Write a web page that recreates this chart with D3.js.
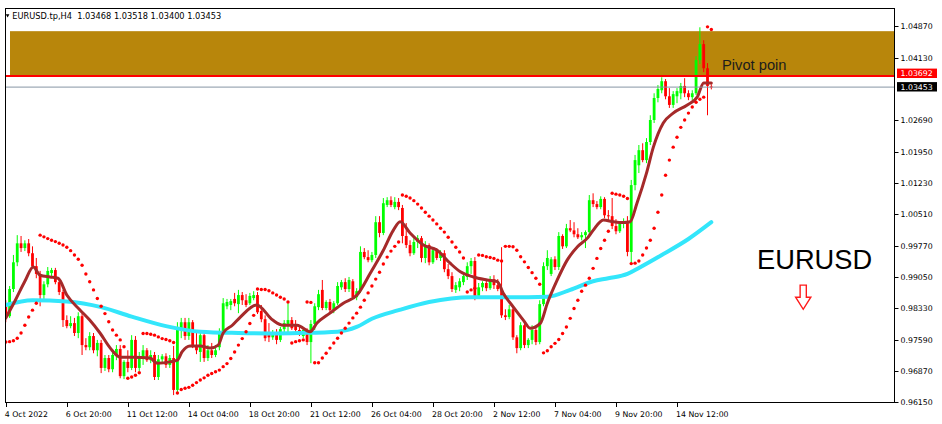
<!DOCTYPE html>
<html><head><meta charset="utf-8">
<script src="https://cdn.jsdelivr.net/npm/d3@7"></script>
<style>html,body{margin:0;padding:0;background:#fff;}svg{display:block;}</style>
</head><body><svg id="c" width="942" height="424"></svg>
<script>
// ---- data (EURUSD.tp, H4) ----
const symbol = "EURUSD.tp,H4";
const lastOHLC = [1.03468, 1.03518, 1.03400, 1.03453];
const open = [0.9840,0.9814,0.9877,0.9939,0.9983,0.9972,0.9983,0.9960,0.9930,0.9912,
0.9863,0.9888,0.9914,0.9921,0.9893,0.9870,0.9805,0.9791,0.9798,0.9775,
0.9814,0.9747,0.9742,0.9768,0.9735,0.9752,0.9694,0.9717,0.9691,0.9724,
0.9738,0.9675,0.9708,0.9694,0.9759,0.9694,0.9719,0.9735,0.9712,0.9724,
0.9673,0.9714,0.9721,0.9701,0.9717,0.9643,0.9786,0.9800,0.9768,0.9800,
0.9747,0.9731,0.9770,0.9717,0.9735,0.9724,0.9742,0.9777,0.9837,0.9840,
0.9854,0.9842,0.9863,0.9851,0.9844,0.9856,0.9863,0.9826,0.9807,0.9775,
0.9765,0.9775,0.9759,0.9784,0.9793,0.9805,0.9791,0.9782,0.9768,0.9779,
0.9754,0.9796,0.9835,0.9875,0.9833,0.9847,0.9828,0.9844,0.9881,0.9893,
0.9877,0.9895,0.9858,0.9872,0.9963,0.9951,0.9944,0.9956,1.0032,1.0007,
1.0072,1.0083,1.0067,1.0079,1.0065,1.0000,0.9979,0.9960,0.9986,0.9995,
0.9949,0.9979,0.9939,0.9967,0.9949,0.9960,0.9923,0.9907,0.9875,0.9881,
0.9893,0.9905,0.9930,0.9942,0.9861,0.9881,0.9891,0.9879,0.9900,0.9886,
0.9877,0.9816,0.9812,0.9830,0.9765,0.9740,0.9793,0.9747,0.9759,0.9782,
0.9754,0.9842,0.9930,0.9912,0.9946,0.9928,1.0000,0.9976,1.0018,1.0013,
1.0004,0.9997,1.0002,1.0009,1.0083,1.0074,1.0067,1.0086,1.0048,1.0046,
1.0023,1.0011,1.0028,1.0034,0.9963,1.0118,1.0164,1.0199,1.0176,1.0218,
1.0269,1.0320,1.0338,1.0359,1.0324,1.0304,1.0324,1.0331,1.0348,1.0331,
1.0322,1.0331,1.0408,1.0445,1.0389,1.03468];
const high = [0.9851,0.9884,0.9956,1.0002,1.0000,0.9990,0.9993,0.9976,0.9949,0.9919,
0.9895,0.9928,0.9926,0.9926,0.9902,0.9875,0.9816,0.9814,0.9810,0.9823,
0.9821,0.9763,0.9777,0.9775,0.9759,0.9759,0.9724,0.9724,0.9731,0.9747,
0.9747,0.9712,0.9735,0.9770,0.9768,0.9731,0.9747,0.9740,0.9735,0.9731,
0.9724,0.9726,0.9728,0.9724,0.9745,0.9800,0.9810,0.9810,0.9810,0.9805,
0.9777,0.9782,0.9777,0.9747,0.9752,0.9747,0.9786,0.9856,0.9854,0.9854,
0.9868,0.9875,0.9870,0.9865,0.9868,0.9872,0.9870,0.9840,0.9816,0.9798,
0.9782,0.9784,0.9789,0.9805,0.9844,0.9812,0.9805,0.9791,0.9789,0.9786,
0.9805,0.9844,0.9875,0.9898,0.9851,0.9854,0.9849,0.9893,0.9898,0.9902,
0.9905,0.9900,0.9879,0.9976,0.9972,0.9967,0.9963,1.0046,1.0046,1.0088,
1.0090,1.0092,1.0090,1.0088,1.0072,1.0030,0.9990,0.9995,1.0002,1.0000,
0.9988,0.9983,0.9974,0.9972,0.9967,0.9967,0.9935,0.9916,0.9893,0.9902,
0.9914,0.9939,0.9949,0.9951,0.9891,0.9895,0.9900,0.9907,0.9909,0.9900,
0.9974,0.9830,0.9840,0.9837,0.9770,0.9800,0.9800,0.9763,0.9793,0.9789,
0.9851,0.9939,0.9967,0.9951,0.9953,1.0009,1.0004,1.0028,1.0037,1.0032,
1.0018,1.0009,1.0013,1.0095,1.0099,1.0081,1.0092,1.0090,1.0060,1.0088,
1.0039,1.0034,1.0041,1.0046,1.0130,1.0188,1.0211,1.0215,1.0227,1.0280,
1.0331,1.0350,1.0368,1.0364,1.0343,1.0336,1.0343,1.0355,1.0366,1.0338,
1.0338,1.0417,1.0484,1.0454,1.0401,1.03518];
const low = [0.9800,0.9810,0.9870,0.9930,0.9963,0.9965,0.9953,0.9926,0.9902,0.9837,
0.9854,0.9881,0.9905,0.9888,0.9863,0.9789,0.9786,0.9786,0.9768,0.9763,
0.9724,0.9735,0.9735,0.9728,0.9721,0.9682,0.9687,0.9684,0.9684,0.9712,
0.9670,0.9668,0.9684,0.9689,0.9684,0.9687,0.9701,0.9708,0.9705,0.9666,
0.9666,0.9705,0.9694,0.9694,0.9631,0.9638,0.9763,0.9759,0.9759,0.9740,
0.9726,0.9708,0.9708,0.9710,0.9717,0.9719,0.9735,0.9772,0.9830,0.9828,
0.9837,0.9821,0.9840,0.9835,0.9840,0.9851,0.9819,0.9800,0.9756,0.9754,
0.9759,0.9749,0.9754,0.9772,0.9772,0.9782,0.9777,0.9768,0.9763,0.9747,
0.9705,0.9782,0.9828,0.9828,0.9828,0.9823,0.9821,0.9840,0.9875,0.9870,
0.9870,0.9854,0.9851,0.9868,0.9946,0.9939,0.9939,0.9949,0.9997,1.0002,
1.0067,1.0067,1.0062,1.0060,0.9983,0.9972,0.9953,0.9956,0.9972,0.9939,
0.9937,0.9932,0.9935,0.9944,0.9942,0.9916,0.9900,0.9870,0.9868,0.9872,
0.9886,0.9898,0.9912,0.9851,0.9854,0.9872,0.9872,0.9875,0.9877,0.9872,
0.9810,0.9805,0.9807,0.9759,0.9728,0.9735,0.9740,0.9740,0.9749,0.9747,
0.9749,0.9837,0.9921,0.9907,0.9921,0.9921,0.9970,0.9972,1.0009,0.9997,
0.9993,0.9990,0.9972,1.0002,1.0067,1.0062,1.0062,1.0041,1.0037,1.0016,
1.0004,1.0007,1.0018,0.9953,0.9937,1.0106,1.0146,1.0171,1.0169,1.0211,
1.0262,1.0310,1.0331,1.0317,1.0297,1.0297,1.0308,1.0317,1.0322,1.0315,
1.0315,1.0327,1.0399,1.0380,1.0280,1.03400];
const close = [0.9814,0.9877,0.9939,0.9983,0.9972,0.9983,0.9960,0.9930,0.9912,0.9863,
0.9888,0.9919,0.9921,0.9893,0.9870,0.9805,0.9791,0.9798,0.9775,0.9814,
0.9747,0.9742,0.9768,0.9735,0.9752,0.9694,0.9717,0.9691,0.9724,0.9738,
0.9675,0.9708,0.9694,0.9759,0.9694,0.9719,0.9735,0.9712,0.9724,0.9673,
0.9714,0.9721,0.9701,0.9717,0.9643,0.9786,0.9800,0.9768,0.9800,0.9747,
0.9735,0.9770,0.9717,0.9735,0.9724,0.9735,0.9777,0.9844,0.9847,0.9849,
0.9844,0.9863,0.9851,0.9840,0.9861,0.9863,0.9823,0.9807,0.9763,0.9765,
0.9775,0.9759,0.9784,0.9798,0.9805,0.9786,0.9782,0.9777,0.9782,0.9754,
0.9796,0.9837,0.9865,0.9833,0.9847,0.9828,0.9844,0.9884,0.9893,0.9877,
0.9898,0.9858,0.9872,0.9963,0.9951,0.9944,0.9956,1.0032,1.0007,1.0076,
1.0083,1.0072,1.0079,1.0067,1.0000,0.9979,0.9960,0.9986,0.9995,0.9949,
0.9979,0.9939,0.9967,0.9949,0.9960,0.9923,0.9907,0.9877,0.9886,0.9895,
0.9907,0.9930,0.9942,0.9861,0.9881,0.9891,0.9879,0.9900,0.9886,0.9877,
0.9816,0.9812,0.9830,0.9765,0.9740,0.9793,0.9747,0.9759,0.9782,0.9754,
0.9842,0.9930,0.9949,0.9946,0.9928,1.0000,0.9976,1.0018,1.0013,1.0004,
0.9997,1.0002,1.0009,1.0083,1.0074,1.0067,1.0086,1.0048,1.0046,1.0023,
1.0011,1.0028,1.0034,0.9963,1.0118,1.0176,1.0199,1.0176,1.0218,1.0269,
1.0320,1.0341,1.0359,1.0324,1.0304,1.0329,1.0336,1.0348,1.0331,1.0322,
1.0331,1.0408,1.0445,1.0389,1.0348,1.03453];
const sar = [0.9754,0.9755,0.9757,0.9763,0.9775,0.9793,0.9812,0.9828,0.9844,1.0002,
0.9998,0.9994,0.9990,0.9987,0.9983,0.9979,0.9974,0.9966,0.9956,0.9946,
0.9932,0.9912,0.9894,0.9875,0.9855,0.9837,0.9820,0.9801,0.9782,0.9770,
0.9759,0.9743,0.9670,0.9673,0.9677,0.9683,0.9774,0.9774,0.9772,0.9770,
0.9766,0.9762,0.9760,0.9757,0.9753,0.9636,0.9644,0.9647,0.9649,0.9654,
0.9660,0.9666,0.9671,0.9677,0.9681,0.9685,0.9689,0.9697,0.9704,0.9716,
0.9731,0.9747,0.9762,0.9778,0.9797,0.9816,0.9877,0.9876,0.9876,0.9873,
0.9868,0.9863,0.9858,0.9854,0.9847,0.9752,0.9755,0.9757,0.9759,0.9847,
0.9846,0.9706,0.9706,0.9717,0.9728,0.9740,0.9752,0.9763,0.9775,0.9786,
0.9798,0.9810,0.9821,0.9835,0.9851,0.9868,0.9884,0.9900,0.9916,0.9935,
0.9951,0.9965,0.9976,0.9986,1.0095,1.0092,1.0088,1.0082,1.0074,1.0065,
1.0055,1.0046,1.0037,1.0028,1.0018,1.0009,0.9997,0.9986,0.9974,0.9963,
0.9949,0.9870,0.9875,0.9879,0.9956,0.9955,0.9952,0.9950,0.9948,0.9944,
0.9942,0.9976,0.9976,0.9975,0.9967,0.9952,0.9940,0.9927,0.9915,0.9902,
0.9888,0.9729,0.9734,0.9743,0.9751,0.9760,0.9774,0.9789,0.9809,0.9832,
0.9851,0.9872,0.9886,0.9902,0.9925,0.9948,0.9971,0.9990,1.0011,1.0099,
1.0097,1.0095,1.0092,1.0087,0.9936,0.9937,0.9942,0.9956,0.9972,0.9990,
1.0018,1.0055,1.0095,1.0141,1.0176,1.0206,1.0229,1.0252,1.0269,1.0285,
1.0299,1.0310,1.0317,1.0322,1.0485,1.0479];
// moving averages: [bar index, price]
const fastMA = [[0,0.9810],[2.5,0.9851],[5,0.9895],[7.2,0.9928],[9,0.9909],[11.6,0.9905],[13.7,0.9902],[16,0.9863],[19.5,0.9828],[22,0.9805],[24.7,0.9775],[27.4,0.9740],[30,0.9719],[33.4,0.9719],[37.8,0.9717],[39.7,0.9705],[43.1,0.9708],[45,0.9712],[46.2,0.9731],[48.3,0.9745],[51,0.9745],[53.6,0.9740],[55.7,0.9747],[57,0.9775],[59.4,0.9793],[61.5,0.9812],[65.8,0.9840],[70,0.9805],[72.7,0.9793],[76.4,0.9793],[79.8,0.9778],[81.6,0.9798],[85,0.9821],[88.5,0.9844],[92.1,0.9863],[95.6,0.9914],[99,0.9967],[101.6,1.0013],[103.4,1.0033],[106,1.0007],[109.5,0.9979],[113.1,0.9967],[116.5,0.9937],[119.2,0.9917],[122.6,0.9905],[126.2,0.9898],[128.9,0.9894],[130.4,0.9868],[133,0.9836],[135.7,0.9805],[137.5,0.9786],[140.2,0.9798],[142,0.9844],[144.6,0.9898],[147.2,0.9944],[149.9,0.9975],[152.5,0.9995],[154,1.0013],[156.7,1.0037],[159.3,1.0033],[161.9,1.0031],[163.7,1.0033],[165.5,1.0076],[168,1.0146],[169.8,1.0206],[172.4,1.0262],[175,1.0285],[178.7,1.0304],[181.3,1.0322],[183,1.0355],[185,1.0355]];
const slowMA = [[0,0.9840],[7,0.9851],[16,0.9848],[25,0.9835],[33,0.9813],[42,0.9791],[51,0.9778],[61,0.9775],[69,0.9774],[77,0.9775],[87,0.9778],[92,0.9789],[96,0.9808],[103,0.9828],[111,0.9847],[122,0.9858],[130,0.9858],[137,0.9858],[142,0.9859],[148,0.9875],[154,0.9895],[158,0.9902],[163,0.9912],[166,0.9926],[172,0.9956],[179,0.9993],[185,1.0032]];
const xTickBars = [0,16,32,48,64,80,96,112,128,144,160,176];
const xTickLabels = ["4 Oct 2022","6 Oct 20:00","11 Oct 12:00","14 Oct 04:00","18 Oct 20:00","21 Oct 12:00","26 Oct 04:00","28 Oct 20:00","2 Nov 12:00","7 Nov 04:00","9 Nov 20:00","14 Nov 12:00"];
const yTickValues = [1.04870,1.04130,1.02690,1.01950,1.01230,1.00510,0.99770,0.99050,0.98330,0.97590,0.96870,0.96150];
const zoneTop = 1.0475, zoneStartBar = 1.1;
const pivotLevel = 1.03692, bidLevel = 1.03453;
const pivotText = "Pivot poin", pivotTextAnchor = [187.8, 1.03847];
const titleText = "EURUSD", titleAnchor = [197.0, 0.99225];
const arrowAnchor = [209.1, 0.9886, 0.9858, 0.9830];

// ---- drawing ----
const svg = d3.select('#c');
const L = 5.5, R = 894.5, T = 8.5, B = 402.5;
const x = d3.scaleLinear().domain([0, 176]).range([5.8, 677]);
const y = d3.scaleLinear().domain([0.96150, 1.04870]).range([402, 26]);
const UP = '#00ff00', DN = '#ff0000';
const axisFont = '"DejaVu Sans", Verdana, sans-serif';

svg.append('rect').attr('width', 942).attr('height', 424).attr('fill', '#fff');
svg.append('defs').append('clipPath').attr('id', 'clip')
  .append('rect').attr('x', L).attr('y', T).attr('width', R - L).attr('height', B - T);
const g = svg.append('g').attr('clip-path', 'url(#clip)');

// resistance zone
g.append('rect').attr('x', x(zoneStartBar)).attr('y', y(zoneTop))
  .attr('width', R - x(zoneStartBar)).attr('height', y(pivotLevel) - y(zoneTop))
  .attr('fill', '#b8860b');

// candles
const bars = d3.range(open.length).map(i => ({i, o: open[i], h: high[i], l: low[i], c: close[i]}));
const cg = g.append('g');
cg.selectAll('line.wick').data(bars).join('line')
  .attr('x1', d => x(d.i)).attr('x2', d => x(d.i))
  .attr('y1', d => y(d.h)).attr('y2', d => y(d.l))
  .attr('stroke', d => d.c >= d.o ? UP : DN).attr('stroke-width', 1);
cg.selectAll('rect.body').data(bars).join('rect')
  .attr('x', d => x(d.i) - 1.4).attr('width', 2.8)
  .attr('y', d => y(Math.max(d.o, d.c)))
  .attr('height', d => Math.max(1, Math.abs(y(d.o) - y(d.c))))
  .attr('fill', d => d.c >= d.o ? UP : DN);

// moving averages
const line = d3.line().x(d => x(d[0])).y(d => y(d[1])).curve(d3.curveMonotoneX);
g.append('path').attr('d', line(slowMA)).attr('fill', 'none')
  .attr('stroke', '#33e6fb').attr('stroke-width', 4).attr('stroke-linecap', 'round');
g.append('path').attr('d', line(fastMA)).attr('fill', 'none')
  .attr('stroke', '#a52a2a').attr('stroke-width', 3).attr('stroke-linecap', 'round');

// parabolic SAR
g.selectAll('circle.sar').data(sar).join('circle')
  .attr('cx', (d, i) => x(i)).attr('cy', d => y(d)).attr('r', 1.7).attr('fill', '#ff0000');

// bid line & pivot line
g.append('line').attr('x1', L).attr('x2', R).attr('y1', y(bidLevel)).attr('y2', y(bidLevel))
  .attr('stroke', '#8796a4').attr('stroke-width', 1);
g.append('line').attr('x1', L).attr('x2', R).attr('y1', y(pivotLevel) - 0.8).attr('y2', y(pivotLevel) - 0.8)
  .attr('stroke', '#ff0000').attr('stroke-width', 2);

// annotations
g.append('text').attr('x', x(pivotTextAnchor[0])).attr('y', y(pivotTextAnchor[1]))
  .attr('font-family', '"Liberation Sans", Arial, sans-serif').attr('font-size', 15)
  .attr('textLength', 64.5).attr('lengthAdjust', 'spacingAndGlyphs')
  .attr('fill', '#1c1c1c').text(pivotText);
g.append('text').attr('x', x(titleAnchor[0])).attr('y', y(titleAnchor[1]))
  .attr('font-family', '"Liberation Sans", Arial, sans-serif').attr('font-size', 27)
  .attr('textLength', 115).attr('lengthAdjust', 'spacingAndGlyphs')
  .attr('fill', '#000').text(titleText);
{
  const cx = x(arrowAnchor[0]), yt = y(arrowAnchor[1]), yn = y(arrowAnchor[2]), yp = y(arrowAnchor[3]);
  const s = 3.1, hw = 7.6;
  g.append('path').attr('d', `M${cx - s},${yt}L${cx + s},${yt}L${cx + s},${yn}L${cx + hw},${yn}L${cx},${yp}L${cx - hw},${yn}L${cx - s},${yn}Z`)
    .attr('fill', '#fff').attr('stroke', '#ff1a1a').attr('stroke-width', 1.4).attr('stroke-linejoin', 'miter');
}

// header
svg.append('path').attr('d', 'M5.8,14.2L9.4,14.2L7.6,17.6Z').attr('fill', '#000');
svg.append('text').attr('x', 12.3).attr('y', 19).attr('font-family', axisFont).attr('font-size', 8.2)
  .attr('textLength', 209).attr('lengthAdjust', 'spacingAndGlyphs').attr('fill', '#000')
  .text(symbol + '\u00a0\u00a0' + lastOHLC.map(v => v.toFixed(5)).join('\u00a0'));

// frame
svg.append('rect').attr('x', L).attr('y', T).attr('width', R - L).attr('height', B - T)
  .attr('fill', 'none').attr('stroke', '#000').attr('stroke-width', 1);

// y axis (right)
const ya = svg.append('g');
yTickValues.forEach(v => {
  const yy = Math.round(y(v)) + 0.5;
  ya.append('line').attr('x1', R).attr('x2', R + 4).attr('y1', yy).attr('y2', yy).attr('stroke', '#000');
  ya.append('text').attr('x', 900.5).attr('y', y(v)).attr('dy', '0.36em')
    .attr('font-family', axisFont).attr('font-size', 7.8).attr('fill', '#000').text(v.toFixed(5));
});
// price labels
function priceLabel(v, cy, bg) {
  ya.append('rect').attr('x', 897).attr('y', cy - 4.6).attr('width', 40).attr('height', 9.4).attr('fill', bg);
  ya.append('text').attr('x', 900.5).attr('y', cy).attr('dy', '0.36em')
    .attr('font-family', axisFont).attr('font-size', 7.8).attr('fill', '#fff').text(v.toFixed(5));
}
priceLabel(pivotLevel, y(pivotLevel) - 3.6, '#ff0000');
priceLabel(bidLevel, y(bidLevel) - 0.4, '#000');

// x axis (bottom)
const xa = svg.append('g');
xTickBars.forEach((b, k) => {
  const xx = Math.round(x(b)) + 0.5;
  xa.append('line').attr('x1', xx).attr('x2', xx).attr('y1', B).attr('y2', B + 4.5).attr('stroke', '#000');
  xa.append('text').attr('x', x(b) - 1).attr('y', 416.5)
    .attr('font-family', axisFont).attr('font-size', 7.8).attr('fill', '#000').text(xTickLabels[k]);
});
</script>
</body></html>
